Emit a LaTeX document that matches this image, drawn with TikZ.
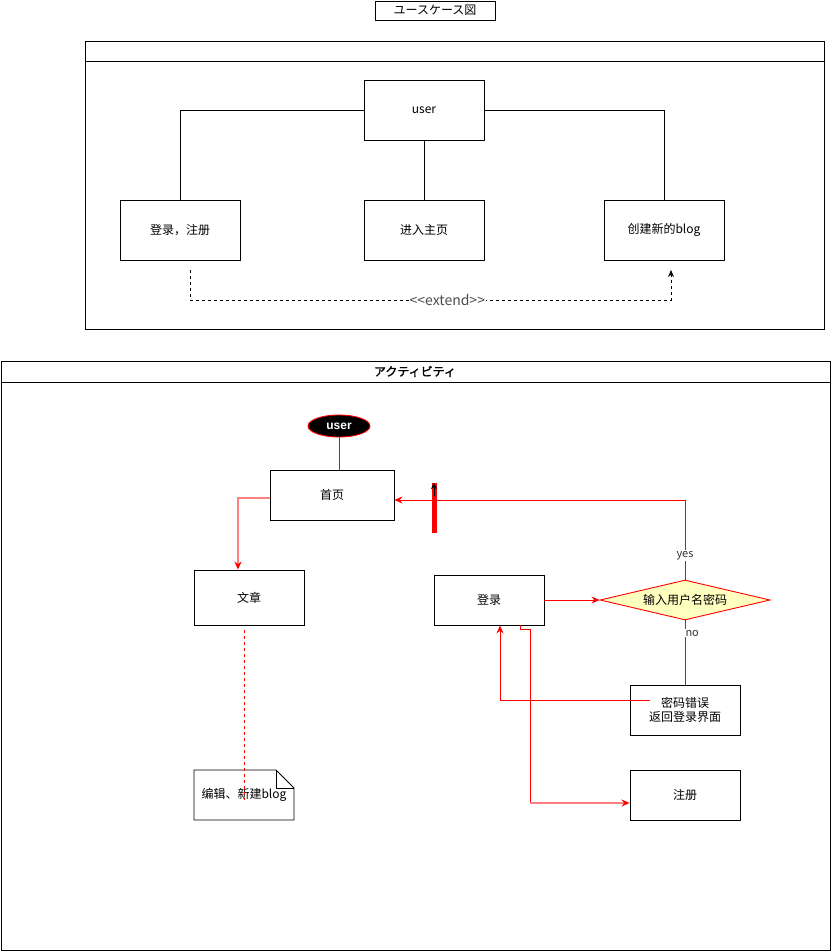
\documentclass[tikz,border=0pt]{standalone}
\usepackage{fontspec}
\setmainfont{Noto Sans CJK SC}
\newfontfamily\jpfont{Noto Sans CJK JP}
\newfontfamily\jpbold[FakeBold=2]{Noto Sans CJK JP}
\newfontfamily\latinbold{Liberation Sans}
\usetikzlibrary{shapes.geometric,arrows.meta}
\definecolor{lightred}{RGB}{255,128,128}
\definecolor{paleyellow}{RGB}{255,255,192}
\tikzset{
  every node/.style={font=\fontsize{12}{14}\selectfont},
  box/.style={draw, line width=0.9pt, fill=white, inner sep=0pt, align=center},
  ucbox/.style={box, minimum width=120pt, minimum height=60pt},
  conn/.style={line width=0.9pt},
  rconn/.style={draw=red, line width=1pt},
  rarrow/.style={rconn, -{Stealth[length=8pt,width=7pt]}, red},
  lbl/.style={fill=white, inner sep=1pt, font=\fontsize{11}{13}\selectfont, text=black!80},
}
\begin{document}
\begin{tikzpicture}[x=1pt,y=-1pt]
\useasboundingbox (0,0) rectangle (831,951);
% ---------- use case part ----------
\node[draw, line width=0.9pt, minimum width=120pt, minimum height=19pt, inner sep=0pt, font=\jpfont\fontsize{12}{14}\selectfont] (title) at (435,10.5) {ユースケース図};
\draw[line width=0.9pt] (85,41) rectangle (824,329);
\draw[line width=0.9pt] (85,61) -- (824,61);

\node[ucbox] (user) at (424,110) {user};
\node[ucbox] (login) at (180,230) {登录，注册};
\node[ucbox] (home) at (424,230) {进入主页};
\node[ucbox] (create) at (664,230) {创建新的blog};

\draw[conn] (user.west) -| (login.north);
\draw[conn] (user.east) -| (create.north);
\draw[conn] (user.south) -- (home.north);

\coordinate (d1) at (190,270);
\coordinate (d2) at (671,270);
\draw[conn, dashed, -{Stealth[length=7pt,width=6pt]}] (d1) -- (190,300) -- node[pos=0.535, fill=white, inner sep=1pt, text=black!70, font=\fontsize{14}{16}\selectfont] {{<}{<}extend{>}{>}} (671,300) -- (d2);

% ---------- activity part ----------
\draw[line width=0.9pt] (1,361) rectangle (830,950);
\draw[line width=0.9pt] (1,382) -- (830,382);
\node[font=\jpbold\fontsize{12}{14}\selectfont] (acttitle) at (415,371.5) {アクティビティ};

\node[ellipse, draw=red, fill=black, line width=0.9pt, minimum width=62pt, minimum height=22pt, inner sep=0pt, text=white, font=\latinbold\bfseries\fontsize{12}{14}\selectfont] (u2) at (339,426) {user};
\node[box, minimum width=124pt, minimum height=50pt] (shouye) at (332,495) {首页};
\node[box, minimum width=110pt, minimum height=55pt] (wenzhang) at (249,597.5) {文章};
\node[box, minimum width=110pt, minimum height=50pt] (denglu) at (489,600) {登录};
\node[diamond, aspect=4.25, draw=red, fill=paleyellow, line width=0.9pt, minimum width=170pt, minimum height=40pt, inner sep=0pt] (check) at (685,600) {输入用户名密码};
\node[box, minimum width=110pt, minimum height=50pt, font=\fontsize{12}{14}\selectfont] (err) at (685,710) {密码错误\\返回登录界面};
\node[box, minimum width=110pt, minimum height=50pt] (zhuce) at (685,795) {注册};

% note
\draw[line width=0.9pt, fill=white] (194,770) -- (276,770) -- (294,788) -- (294,820) -- (194,820) -- cycle;
\draw[line width=0.9pt] (276,770) -- (276,788) -- (294,788);
\node (note) at (244,795) {编辑、新建blog};

% connectors
\draw[rconn] (u2.south) -- (u2.south |- shouye.north);
\draw[lightred, line width=1.4pt, -{Stealth[length=8pt,width=7pt,red]}] (shouye.west |- 0,498) -| (wenzhang.north -| 238,0);
\coordinate (wz) at (244,630);
\coordinate (noteend) at (244,800);
\draw[red, line width=0.9pt, dash pattern=on 3pt off 3pt] (wz) -- (noteend);

\draw[rarrow] (denglu.east) -- (check.west);
\draw[rarrow] (check.north) -- node[lbl, pos=0.3] {yes} (685,500) -- (shouye.east |- 0,500);
\draw[rconn] (check.south) -- node[lbl, pos=0.2, anchor=west, xshift=-1pt] {no} (err.north);
\coordinate (errstart) at (650,700);
\draw[rarrow] (errstart) -| (denglu.south -| 500,0);
\coordinate (lgout) at (520,625);
\draw[rconn] (lgout) -- (520,629) -- (530,629) -- (530,803);
\draw[lightred, line width=1.4pt, -{Stealth[length=8pt,width=7pt,red]}] (530,803) -- (zhuce.west |- 0,803);

% red bar with black arrow
\coordinate (barbot) at (434,533);
\coordinate (bartop) at (434,483);
\draw[red, line width=5pt] (barbot) -- (bartop);
\coordinate (arrbase) at (434,496);
\draw[black, line width=1pt, -{Stealth[length=6pt,width=6pt]}] (arrbase) -- (bartop);
\end{tikzpicture}
\end{document}
